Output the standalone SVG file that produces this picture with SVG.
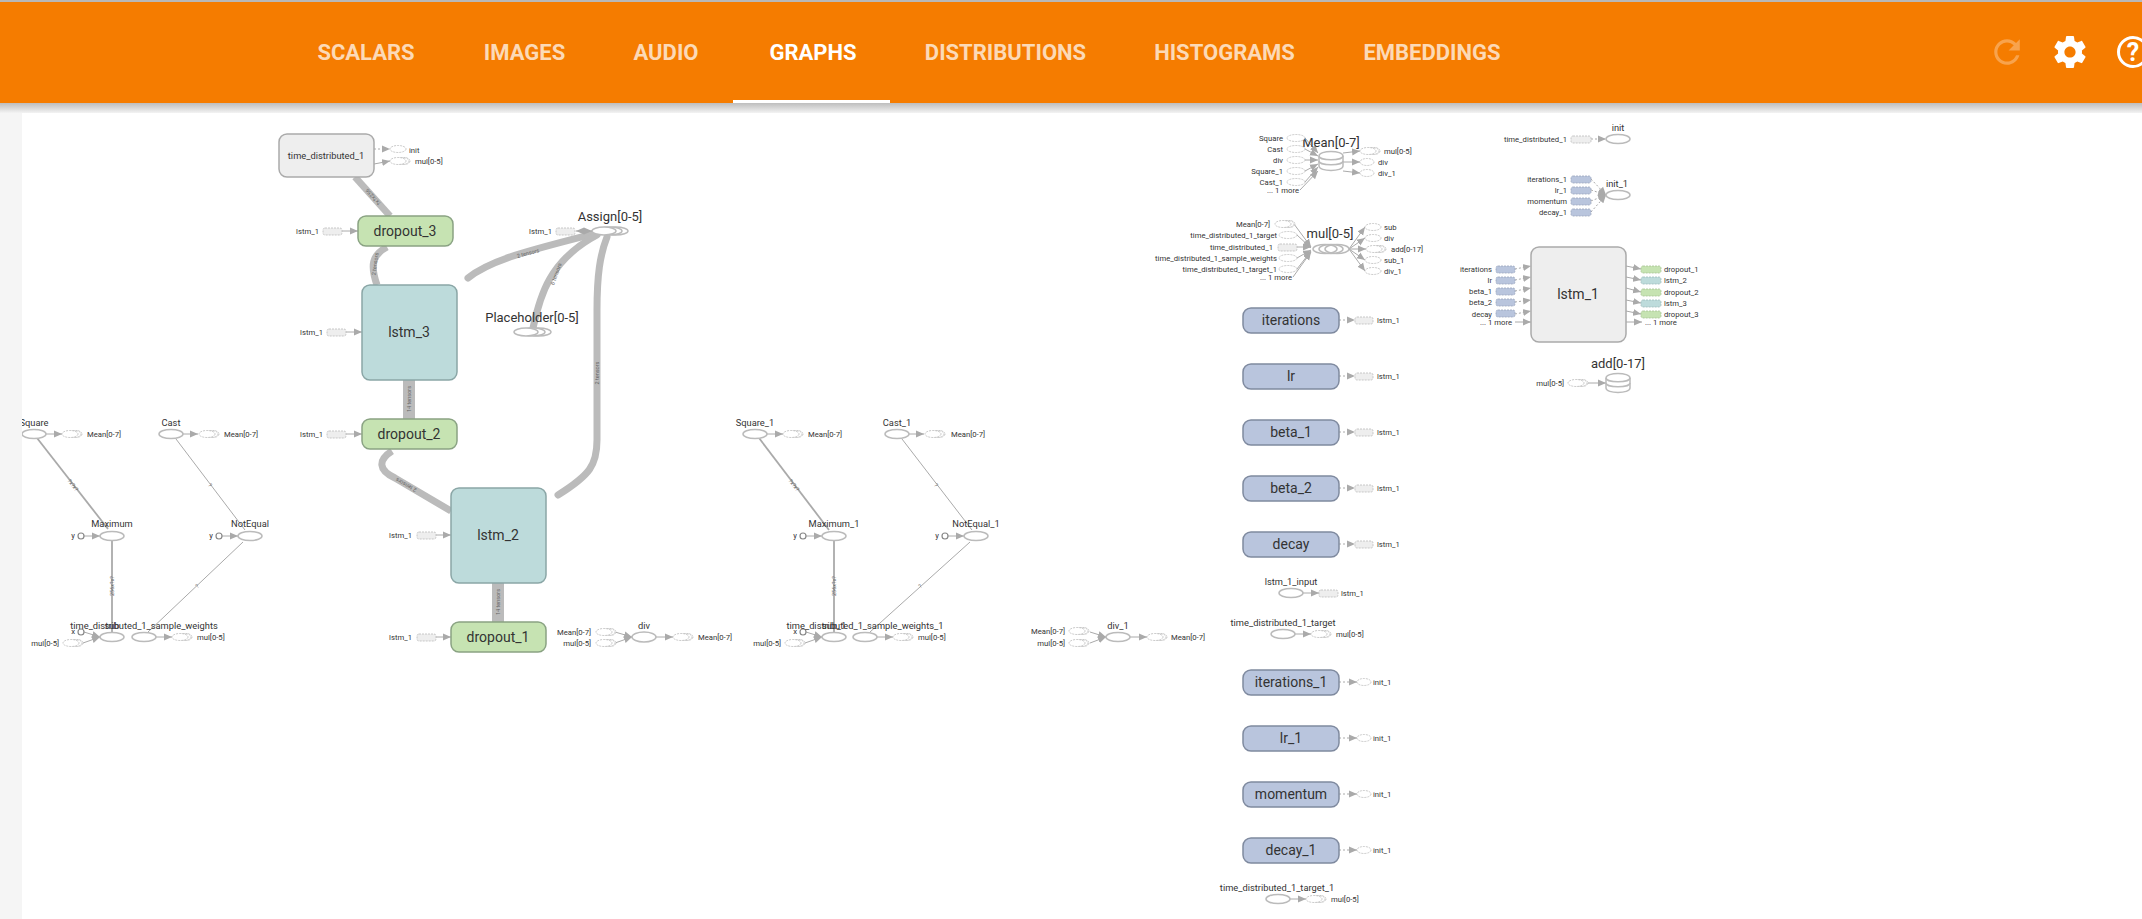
<svg xmlns="http://www.w3.org/2000/svg" width="2142" height="919" viewBox="0 0 2142 919">
<defs>
<linearGradient id="shadow" x1="0" y1="0" x2="0" y2="1"><stop offset="0" stop-color="#bdbdbd"/><stop offset="1" stop-color="#f3f3f3"/></linearGradient>
<marker id="arr" markerUnits="userSpaceOnUse" markerWidth="9" markerHeight="8" refX="8" refY="4" orient="auto"><path d="M0 .5L8 4L0 7.500z" fill="#aaa"/></marker>
<marker id="arrs" markerUnits="userSpaceOnUse" markerWidth="9" markerHeight="8" refX="8" refY="4" orient="auto-start-reverse"><path d="M0 .5L8 4L0 7.500z" fill="#aaa"/></marker>
<g id="ser"><ellipse class="st" cx="4" cy="0" rx="6" ry="3.500"/><ellipse class="st" cx="2" cy="0" rx="7" ry="3.500"/><ellipse class="st" cx="-2" cy="0" rx="8" ry="3.500"/></g>
</defs>
<style>
text{font-family:Roboto,"Liberation Sans",sans-serif;fill:#333}
.nav{font-size:22px;font-weight:700;fill:#fff;fill-opacity:.72;text-anchor:middle}
.big{font-size:14px;text-anchor:middle;dominant-baseline:central}
.n{font-size:9.300px;text-anchor:middle;dominant-baseline:central}
.lab{font-size:13px;text-anchor:middle;dominant-baseline:central}
.s{font-size:7.700px;dominant-baseline:central;fill:#333}
.r{text-anchor:end}
.el{font-size:5.500px;text-anchor:middle;dominant-baseline:central;fill:#666}
.op{fill:#fff;stroke:#bbb;stroke-width:1.500}
.st{fill:#fff;stroke:#bbb;stroke-width:.8;stroke-dasharray:2 1}
.rs{stroke:#bbb;stroke-width:.8;stroke-dasharray:2 1;fill:#eee}
.b{fill:#b9c5dd;stroke:#99a5bd}
.g{fill:#c6e3b2;stroke:#a6c392}
.t{fill:#bddbdb;stroke:#9dbbbb}
.box{stroke-width:1.500}
.bg{fill:#bddbdb;stroke:#8aa6a6}
.bd{fill:#c6e3b2;stroke:#8aa383}
.bb{fill:#b9c5dd;stroke:#7f8a9f}
.bm{fill:#eee;stroke:#aaa}
.c{fill:#fff;stroke:#888;stroke-width:1.200}
.e{fill:none;stroke:#aaa;stroke-width:1;marker-end:url(#arr)}
.d{stroke-dasharray:2 2}
.th{fill:none;stroke:#bbb;stroke-linecap:round}
.hi{fill:none;stroke:#bbb}
</style>
<rect width="2142" height="919" fill="#fff"/>
<rect x="0" y="103" width="22" height="816" fill="#f5f5f5"/>
<rect x="0" y="103" width="2142" height="10" fill="url(#shadow)"/>
<rect x="0" y="0" width="2142" height="103" fill="#f57c00"/>
<rect x="0" y="0" width="2142" height="2" fill="#b8b8b8"/>
<rect x="733" y="100" width="157" height="3" fill="#fff"/>
<g id="nav">
<text class="nav" x="366" y="60">SCALARS</text>
<text class="nav" x="524.500" y="60">IMAGES</text>
<text class="nav" x="666" y="60">AUDIO</text>
<text class="nav" x="813" y="60" style="fill-opacity:1">GRAPHS</text>
<text class="nav" x="1005.500" y="60">DISTRIBUTIONS</text>
<text class="nav" x="1224.500" y="60">HISTOGRAMS</text>
<text class="nav" x="1432" y="60">EMBEDDINGS</text>
<path transform="translate(1987.800 32.800) scale(1.600)" fill="#fff" fill-opacity=".3" d="M17.65 6.35C16.2 4.9 14.21 4 12 4c-4.42 0-7.99 3.58-7.99 8s3.57 8 7.99 8c3.73 0 6.84-2.55 7.73-6h-2.08c-.82 2.33-3.04 4-5.65 4-3.31 0-6-2.69-6-6s2.69-6 6-6c1.66 0 3.14.69 4.22 1.78L13 11h7V4l-2.35 2.35z"/>
<path transform="translate(2050.800 32.800) scale(1.600)" fill="#fff" d="M19.43 12.98c.04-.32.07-.64.07-.98s-.03-.66-.07-.98l2.11-1.650c.19-.15.24-.42.12-.64l-2-3.460c-.12-.22-.39-.3-.61-.22l-2.490 1c-.52-.4-1.080-.73-1.690-.98l-.38-2.650C14.460 2.180 14.250 2 14 2h-4c-.25 0-.46.18-.49.42l-.38 2.650c-.61.25-1.170.59-1.690.98l-2.490-1c-.23-.09-.49 0-.61.22l-2 3.460c-.13.22-.07.49.12.64l2.110 1.650c-.04.32-.07.65-.07.98s.03.66.07.98l-2.110 1.650c-.19.15-.24.42-.12.64l2 3.460c.12.22.39.3.61.22l2.490-1c.52.4 1.080.73 1.690.98l.38 2.650c.03.24.24.42.49.42h4c.25 0 .46-.18.49-.42l.38-2.650c.61-.25 1.170-.59 1.690-.98l2.490 1c.23.09.49 0 .61-.22l2-3.460c.12-.22.07-.49-.12-.64l-2.110-1.650zM12 15.500c-1.930 0-3.500-1.570-3.500-3.500s1.570-3.500 3.500-3.500 3.500 1.570 3.500 3.500-1.570 3.500-3.500 3.500z"/>
<circle cx="2133" cy="52" r="14.500" fill="none" stroke="#fff" stroke-width="3"/>
<text x="2133" y="61" text-anchor="middle" style="font-size:25px;font-weight:700;fill:#fff">?</text>
</g>
<g id="connectors">
<path class="hi" stroke-width="7" d="M355 177L390 216"/>
<path class="hi" stroke-width="7" d="M387 247C372 255 370 265 377 285"/>
<path class="th" stroke-width="7" d="M468 278C490 260 530 250 597 233"/>
<path class="th" stroke-width="7" d="M533 328C540 295 550 260 597 235"/>
<path class="th" stroke-width="7" d="M558 495C590 475 597 465 597 440L597 310C597 275 600 255 607 237"/>
<path class="hi" stroke-width="12" d="M409 380V419"/>
<path class="hi" stroke-width="12" d="M498 583V622"/>
<path class="hi" stroke-width="7" d="M392 451C378 460 378 470 395 478L451 511"/>
<text class="el" transform="translate(373 197) rotate(228)">?x?x256</text>
<text class="el" transform="translate(375 264) rotate(-82)">2 tensors</text>
<text class="el" transform="translate(528 253) rotate(-15)">2 tensors</text>
<text class="el" transform="translate(556 274) rotate(-70)">6 tensors</text>
<text class="el" transform="translate(597 373) rotate(-90)">2 tensors</text>
<text class="el" transform="translate(409 399) rotate(-90)">14 tensors</text>
<text class="el" transform="translate(498 602) rotate(-90)">14 tensors</text>
<text class="el" transform="translate(406 485) rotate(210)">2 tensors</text>
<path class="e d" d="M374 149L390 149"/>
<path class="e" d="M374 164L390 161"/>
<path class="e" d="M342 231H358"/>
<path class="e" d="M346 332H362"/>
<path class="e" d="M346 434H362"/>
<path class="e" d="M435 535H451"/>
<path class="e" d="M435 637H451"/>
<path class="e" d="M615 632L632 637"/>
<path class="e" d="M615 643L632 637"/>
<path class="e" d="M656 637H673"/>
<path class="e" d="M46 434H62"/>
<path class="e" d="M183 434H198"/>
<path class="e" d="M84 536H100"/>
<path class="e" d="M222 536H238"/>
<path class="e" d="M84 632L100 637"/>
<path class="e" d="M83 643L100 637"/>
<path class="e" d="M156 637H172"/>
<path fill="none" stroke="#aaa" stroke-width="1.800" d="M37 438L108 529"/>
<path fill="none" stroke="#aaa" stroke-width="1" d="M176 439L245 530"/>
<path fill="none" stroke="#aaa" stroke-width="1.800" d="M112 540V633"/>
<path fill="none" stroke="#aaa" stroke-width="1" d="M243 542L148 632"/>
<text class="el" transform="translate(73 485) rotate(52)">?x?x?</text>
<text class="el" transform="translate(210 485) rotate(52)">?</text>
<text class="el" transform="translate(112 586) rotate(-90)">256x?x?</text>
<text class="el" transform="translate(197 586) rotate(-43)">?</text>
<path class="e" d="M767 434H783"/>
<path class="e" d="M909 434H924"/>
<path class="e" d="M806 536H822"/>
<path class="e" d="M948 536H964"/>
<path class="e" d="M806 632L822 637"/>
<path class="e" d="M805 643L822 637"/>
<path class="e" d="M877 637H893"/>
<path fill="none" stroke="#aaa" stroke-width="1.800" d="M759 438L829 530"/>
<path fill="none" stroke="#aaa" stroke-width="1" d="M902 439L972 530"/>
<path fill="none" stroke="#aaa" stroke-width="1.800" d="M834 540V633"/>
<path fill="none" stroke="#aaa" stroke-width="1" d="M970 542L870 632"/>
<text class="el" transform="translate(794 485) rotate(52)">?x?x?</text>
<text class="el" transform="translate(936 485) rotate(52)">?</text>
<text class="el" transform="translate(834 586) rotate(-90)">256x?x?</text>
<text class="el" transform="translate(920 586) rotate(-43)">?</text>
<path class="e" d="M1090 632L1106 637"/>
<path class="e" d="M1090 643L1106 637"/>
<path class="e" d="M1130 637H1147"/>
<path class="e" d="M1305 138L1318 153"/>
<path class="e" d="M1305 149L1318 156"/>
<path class="e" d="M1305 160L1318 160"/>
<path class="e" d="M1305 171L1318 164"/>
<path class="e" d="M1305 182L1318 167"/>
<path class="e" d="M1300 190L1318 171"/>
<path class="e" d="M1343 153L1360 151"/>
<path class="e" d="M1343 162H1360"/>
<path class="e" d="M1343 171L1360 173"/>
<path class="e" d="M1294 224L1311 247"/>
<path class="e" d="M1297 235L1311 248"/>
<path class="e" d="M1297 247H1311"/>
<path class="e" d="M1297 258L1311 250"/>
<path class="e" d="M1297 269L1311 251"/>
<path class="e" d="M1293 277L1311 252"/>
<path class="e" d="M1349 249L1365 227"/>
<path class="e" d="M1349 249L1365 238"/>
<path class="e" d="M1349 249H1366"/>
<path class="e" d="M1349 249L1365 260"/>
<path class="e" d="M1349 249L1365 271"/>
<path class="e d" d="M1591 139H1606"/>
<path class="e d" d="M1591 179L1606 195"/>
<path class="e d" d="M1591 190L1606 195"/>
<path class="e d" d="M1591 201L1606 195"/>
<path class="e d" d="M1591 212L1606 195"/>
<path class="e d" d="M1515 269L1531 266"/>
<path class="e d" d="M1515 280L1531 277"/>
<path class="e d" d="M1515 291L1531 288"/>
<path class="e d" d="M1515 302L1531 300"/>
<path class="e d" d="M1515 314L1531 311"/>
<path class="e" d="M1515 322H1531"/>
<path class="e" d="M1626 266L1641 269"/>
<path class="e" d="M1626 277L1641 280"/>
<path class="e" d="M1626 288L1641 292"/>
<path class="e" d="M1626 300L1641 303"/>
<path class="e" d="M1626 311L1641 314"/>
<path class="e" d="M1626 322H1642"/>
<path class="e" d="M1588 383H1606"/>
<path class="e d" d="M1339 320H1355"/>
<path class="e d" d="M1339 376H1355"/>
<path class="e d" d="M1339 432H1355"/>
<path class="e d" d="M1339 488H1355"/>
<path class="e d" d="M1339 544H1355"/>
<path class="e d" d="M1339 682H1357"/>
<path class="e d" d="M1339 738H1357"/>
<path class="e d" d="M1339 794H1357"/>
<path class="e d" d="M1339 850H1357"/>
<path class="e" d="M1303 593H1319"/>
<path class="e" d="M1295 634H1311"/>
<path class="e" d="M1290 899H1306"/>
</g>
<g id="time_distributed_1"><rect class="box bm" x="279" y="134" width="95" height="43" rx="8"/><text class="n" x="326" y="155">time_distributed_1</text>
<ellipse class="st" cx="398" cy="149" rx="8" ry="3.500"/><text class="s" x="409" y="150">init</text>
<use href="#ser" x="400" y="161"/><text class="s" x="415" y="161">mul[0-5]</text></g>
<g id="dropout_3"><rect class="box bd" x="358" y="216" width="95" height="30" rx="8"/><text class="big" x="405" y="231">dropout_3</text>
<rect class="rs" x="323" y="228" width="19" height="7" rx="2"/><text class="s r" x="319" y="231">lstm_1</text></g>
<g id="lstm_3"><rect class="box bg" x="362" y="285" width="95" height="95" rx="8"/><text class="big" x="409" y="332">lstm_3</text>
<rect class="rs" x="327" y="329" width="19" height="7" rx="2"/><text class="s r" x="323" y="332">lstm_1</text></g>
<g id="dropout_2"><rect class="box bd" x="362" y="419" width="95" height="30" rx="8"/><text class="big" x="409" y="434">dropout_2</text>
<rect class="rs" x="327" y="431" width="19" height="7" rx="2"/><text class="s r" x="323" y="434">lstm_1</text></g>
<g id="lstm_2"><rect class="box bg" x="451" y="488" width="95" height="95" rx="8"/><text class="big" x="498" y="535">lstm_2</text>
<rect class="rs" x="417" y="532" width="19" height="7" rx="2"/><text class="s r" x="412" y="535">lstm_1</text></g>
<g id="dropout_1"><rect class="box bd" x="451" y="622" width="95" height="30" rx="8"/><text class="big" x="498" y="637">dropout_1</text>
<rect class="rs" x="417" y="634" width="19" height="7" rx="2"/><text class="s r" x="412" y="637">lstm_1</text></g>
<g id="Assign"><ellipse class="op" cx="616" cy="231" rx="12" ry="4"/><ellipse class="op" cx="610" cy="231" rx="12" ry="4"/><ellipse class="op" cx="604" cy="231" rx="12" ry="4"/><text class="lab" x="610" y="216">Assign[0-5]</text>
<rect class="rs" x="556" y="228" width="19" height="7" rx="2"/><text class="s r" x="552" y="231">lstm_1</text></g>
<path fill="none" stroke="#aaa" d="M576 231H592" marker-start="url(#arrs)" marker-end="url(#arrs)"/>
<g id="Placeholder"><ellipse class="op" cx="539" cy="332" rx="12" ry="4"/><ellipse class="op" cx="533" cy="332" rx="12" ry="4"/><ellipse class="op" cx="526" cy="332" rx="12" ry="4"/><text class="lab" x="532" y="317">Placeholder[0-5]</text></g>
<g id="div"><ellipse class="op" cx="644" cy="637" rx="12" ry="5"/><text class="n" x="644" y="625">div</text>
<use href="#ser" x="606" y="632"/><use href="#ser" x="606" y="643"/><text class="s r" x="591" y="632">Mean[0-7]</text><text class="s r" x="591" y="643">mul[0-5]</text>
<use href="#ser" x="683" y="637"/><text class="s" x="698" y="637">Mean[0-7]</text></g>
<g id="Square"><ellipse class="op" cx="34" cy="434" rx="12" ry="4.500"/><text class="n" x="34" y="422">Square</text><use href="#ser" x="72" y="434"/><text class="s" x="87" y="434">Mean[0-7]</text></g>
<rect x="0" y="414" width="22" height="30" fill="#f5f5f5"/>
<g id="Cast"><ellipse class="op" cx="171" cy="434" rx="12" ry="4.500"/><text class="n" x="171" y="422">Cast</text><use href="#ser" x="209" y="434"/><text class="s" x="224" y="434">Mean[0-7]</text></g>
<g id="Maximum"><ellipse class="op" cx="112" cy="536" rx="12" ry="4.500"/><text class="n" x="112" y="523">Maximum</text><circle class="c" cx="81" cy="536" r="3"/><text class="s r" x="75" y="535">y</text></g>
<g id="NotEqual"><ellipse class="op" cx="250" cy="536" rx="12" ry="4.500"/><text class="n" x="250" y="523">NotEqual</text><circle class="c" cx="219" cy="536" r="3"/><text class="s r" x="213" y="535">y</text></g>
<g id="sub"><ellipse class="op" cx="112" cy="637" rx="12" ry="4.500"/><text class="n" x="112" y="625">sub</text><circle class="c" cx="81" cy="632" r="3"/><text class="s r" x="75" y="631">x</text>
<use href="#ser" x="73" y="643"/><text class="s r" x="59" y="643">mul[0-5]</text></g>
<g id="time_distributed_1_sample_weights"><ellipse class="op" cx="144" cy="637" rx="12" ry="4.500"/><text class="n" x="144" y="625">time_distributed_1_sample_weights</text><use href="#ser" x="182" y="637"/><text class="s" x="197" y="637">mul[0-5]</text></g>
<g id="Square_1"><ellipse class="op" cx="755" cy="434" rx="12" ry="4.500"/><text class="n" x="755" y="422">Square_1</text><use href="#ser" x="793" y="434"/><text class="s" x="808" y="434">Mean[0-7]</text></g>
<g id="Cast_1"><ellipse class="op" cx="897" cy="434" rx="12" ry="4.500"/><text class="n" x="897" y="422">Cast_1</text><use href="#ser" x="935" y="434"/><text class="s" x="951" y="434">Mean[0-7]</text></g>
<g id="Maximum_1"><ellipse class="op" cx="834" cy="536" rx="12" ry="4.500"/><text class="n" x="834" y="523">Maximum_1</text><circle class="c" cx="803" cy="536" r="3"/><text class="s r" x="797" y="535">y</text></g>
<g id="NotEqual_1"><ellipse class="op" cx="976" cy="536" rx="12" ry="4.500"/><text class="n" x="976" y="523">NotEqual_1</text><circle class="c" cx="945" cy="536" r="3"/><text class="s r" x="939" y="535">y</text></g>
<g id="sub_1"><ellipse class="op" cx="834" cy="637" rx="12" ry="4.500"/><text class="n" x="834" y="625">sub_1</text><circle class="c" cx="803" cy="632" r="3"/><text class="s r" x="797" y="631">x</text>
<use href="#ser" x="795" y="643"/><text class="s r" x="781" y="643">mul[0-5]</text></g>
<g id="time_distributed_1_sample_weights_1"><ellipse class="op" cx="865" cy="637" rx="12" ry="4.500"/><text class="n" x="865" y="625">time_distributed_1_sample_weights_1</text><use href="#ser" x="903" y="637"/><text class="s" x="918" y="637">mul[0-5]</text></g>
<g id="div_1"><ellipse class="op" cx="1118" cy="637" rx="12" ry="4.500"/><text class="n" x="1118" y="625">div_1</text>
<use href="#ser" x="1079" y="631"/><use href="#ser" x="1079" y="643"/><text class="s r" x="1065" y="631">Mean[0-7]</text><text class="s r" x="1065" y="643">mul[0-5]</text>
<use href="#ser" x="1157" y="637"/><text class="s" x="1171" y="637">Mean[0-7]</text></g>
<g id="Mean"><text class="lab" x="1331" y="142">Mean[0-7]</text>
<path class="op" style="fill:none" d="M1319 156C1319 150 1343 150 1343 156V166C1343 172 1319 172 1319 166Z"/><path class="op" style="fill:none" d="M1319 156C1319 161 1343 161 1343 156M1319 161C1319 166 1343 166 1343 161"/>
<ellipse class="st" cx="1296" cy="138" rx="9" ry="3.500"/><ellipse class="st" cx="1296" cy="149" rx="9" ry="3.500"/><ellipse class="st" cx="1296" cy="160" rx="9" ry="3.500"/><ellipse class="st" cx="1296" cy="171" rx="9" ry="3.500"/><ellipse class="st" cx="1296" cy="182" rx="9" ry="3.500"/>
<text class="s r" x="1283" y="138">Square</text><text class="s r" x="1283" y="149">Cast</text><text class="s r" x="1283" y="160">div</text><text class="s r" x="1283" y="171">Square_1</text><text class="s r" x="1283" y="182">Cast_1</text><text class="s r" x="1299" y="190">... 1 more</text>
<use href="#ser" x="1370" y="151"/><ellipse class="st" cx="1367" cy="162" rx="7" ry="3.500"/><ellipse class="st" cx="1367" cy="173" rx="7" ry="3.500"/>
<text class="s" x="1384" y="151">mul[0-5]</text><text class="s" x="1378" y="162">div</text><text class="s" x="1378" y="173">div_1</text></g>
<g id="mul"><text class="lab" x="1330" y="233">mul[0-5]</text>
<ellipse class="op" style="fill:none" cx="1337" cy="249" rx="12" ry="4.500"/><ellipse class="op" style="fill:none" cx="1331" cy="249" rx="12" ry="4.500"/><ellipse class="op" style="fill:none" cx="1325" cy="249" rx="12" ry="4.500"/>
<use href="#ser" x="1285" y="224"/><ellipse class="st" cx="1288" cy="235" rx="9" ry="3.500"/><rect class="rs" x="1278" y="244" width="19" height="7" rx="2"/><ellipse class="st" cx="1288" cy="258" rx="9" ry="3.500"/><ellipse class="st" cx="1288" cy="269" rx="9" ry="3.500"/>
<text class="s r" x="1270" y="224">Mean[0-7]</text><text class="s r" x="1277" y="235">time_distributed_1_target</text><text class="s r" x="1273" y="247">time_distributed_1</text><text class="s r" x="1277" y="258">time_distributed_1_sample_weights</text><text class="s r" x="1277" y="269">time_distributed_1_target_1</text><text class="s r" x="1292" y="277">... 1 more</text>
<ellipse class="st" cx="1373" cy="227" rx="8" ry="3.500"/><ellipse class="st" cx="1373" cy="238" rx="8" ry="3.500"/><use href="#ser" x="1376" y="249"/><ellipse class="st" cx="1373" cy="260" rx="8" ry="3.500"/><ellipse class="st" cx="1373" cy="271" rx="8" ry="3.500"/>
<text class="s" x="1384" y="227">sub</text><text class="s" x="1384" y="238">div</text><text class="s" x="1391" y="249">add[0-17]</text><text class="s" x="1384" y="260">sub_1</text><text class="s" x="1384" y="271">div_1</text></g>
<g id="init"><ellipse class="op" cx="1618" cy="139" rx="12" ry="4.500"/><text class="n" x="1618" y="127">init</text><rect class="rs" x="1571" y="136" width="20" height="7" rx="2"/><text class="s r" x="1567" y="139">time_distributed_1</text></g>
<g id="init_1"><ellipse class="op" cx="1618" cy="195" rx="12" ry="4.500"/><text class="n" x="1617" y="183">init_1</text>
<rect class="rs b" x="1571" y="176" width="20" height="7" rx="2"/><rect class="rs b" x="1571" y="187" width="20" height="7" rx="2"/><rect class="rs b" x="1571" y="198" width="20" height="7" rx="2"/><rect class="rs b" x="1571" y="209" width="20" height="7" rx="2"/>
<text class="s r" x="1567" y="179">iterations_1</text><text class="s r" x="1567" y="190">lr_1</text><text class="s r" x="1567" y="201">momentum</text><text class="s r" x="1567" y="212">decay_1</text></g>
<g id="lstm_1"><rect class="box bm" x="1531" y="247" width="95" height="95" rx="8"/><text class="big" x="1578" y="294">lstm_1</text>
<rect class="rs b" x="1496" y="266" width="19" height="7" rx="2"/><rect class="rs b" x="1496" y="277" width="19" height="7" rx="2"/><rect class="rs b" x="1496" y="288" width="19" height="7" rx="2"/><rect class="rs b" x="1496" y="299" width="19" height="7" rx="2"/><rect class="rs b" x="1496" y="310" width="19" height="7" rx="2"/>
<text class="s r" x="1492" y="269">iterations</text><text class="s r" x="1492" y="280">lr</text><text class="s r" x="1492" y="291">beta_1</text><text class="s r" x="1492" y="302">beta_2</text><text class="s r" x="1492" y="314">decay</text><text class="s r" x="1512" y="322">... 1 more</text>
<rect class="rs g" x="1641" y="266" width="20" height="7" rx="2"/><rect class="rs t" x="1641" y="277" width="20" height="7" rx="2"/><rect class="rs g" x="1641" y="289" width="20" height="7" rx="2"/><rect class="rs t" x="1641" y="300" width="20" height="7" rx="2"/><rect class="rs g" x="1641" y="311" width="20" height="7" rx="2"/>
<text class="s" x="1664" y="269">dropout_1</text><text class="s" x="1664" y="280">lstm_2</text><text class="s" x="1664" y="292">dropout_2</text><text class="s" x="1664" y="303">lstm_3</text><text class="s" x="1664" y="314">dropout_3</text><text class="s" x="1645" y="322">... 1 more</text></g>
<g id="add"><text class="lab" x="1618" y="363">add[0-17]</text>
<path class="op" style="fill:none" d="M1606 378C1606 372 1630 372 1630 378V388C1630 394 1606 394 1606 388Z"/><path class="op" style="fill:none" d="M1606 378C1606 383 1630 383 1630 378M1606 383C1606 388 1630 388 1630 383"/>
<use href="#ser" x="1578" y="383"/><text class="s r" x="1564" y="383">mul[0-5]</text></g>
<g id="iterations"><rect class="box bb" x="1243" y="308" width="96" height="25" rx="8"/><text class="big" x="1291" y="320">iterations</text><rect class="rs" x="1355" y="317" width="18" height="7" rx="2"/><text class="s" x="1377" y="320">lstm_1</text></g>
<g id="lr"><rect class="box bb" x="1243" y="364" width="96" height="25" rx="8"/><text class="big" x="1291" y="376">lr</text><rect class="rs" x="1355" y="373" width="18" height="7" rx="2"/><text class="s" x="1377" y="376">lstm_1</text></g>
<g id="beta_1"><rect class="box bb" x="1243" y="420" width="96" height="25" rx="8"/><text class="big" x="1291" y="432">beta_1</text><rect class="rs" x="1355" y="429" width="18" height="7" rx="2"/><text class="s" x="1377" y="432">lstm_1</text></g>
<g id="beta_2"><rect class="box bb" x="1243" y="476" width="96" height="25" rx="8"/><text class="big" x="1291" y="488">beta_2</text><rect class="rs" x="1355" y="485" width="18" height="7" rx="2"/><text class="s" x="1377" y="488">lstm_1</text></g>
<g id="decay"><rect class="box bb" x="1243" y="532" width="96" height="25" rx="8"/><text class="big" x="1291" y="544">decay</text><rect class="rs" x="1355" y="541" width="18" height="7" rx="2"/><text class="s" x="1377" y="544">lstm_1</text></g>
<g id="lstm_1_input"><ellipse class="op" cx="1291" cy="593" rx="12" ry="4.500"/><text class="n" x="1291" y="581">lstm_1_input</text><rect class="rs" x="1319" y="590" width="19" height="7" rx="2"/><text class="s" x="1341" y="593">lstm_1</text></g>
<g id="time_distributed_1_target"><ellipse class="op" cx="1283" cy="634" rx="12" ry="4.500"/><text class="n" x="1283" y="622">time_distributed_1_target</text><use href="#ser" x="1321" y="634"/><text class="s" x="1336" y="634">mul[0-5]</text></g>
<g id="iterations_1"><rect class="box bb" x="1243" y="670" width="96" height="25" rx="8"/><text class="big" x="1291" y="682">iterations_1</text><ellipse class="st" cx="1364" cy="682" rx="7" ry="3.500"/><text class="s" x="1373" y="682">init_1</text></g>
<g id="lr_1"><rect class="box bb" x="1243" y="726" width="96" height="25" rx="8"/><text class="big" x="1291" y="738">lr_1</text><ellipse class="st" cx="1364" cy="738" rx="7" ry="3.500"/><text class="s" x="1373" y="738">init_1</text></g>
<g id="momentum"><rect class="box bb" x="1243" y="782" width="96" height="25" rx="8"/><text class="big" x="1291" y="794">momentum</text><ellipse class="st" cx="1364" cy="794" rx="7" ry="3.500"/><text class="s" x="1373" y="794">init_1</text></g>
<g id="decay_1"><rect class="box bb" x="1243" y="838" width="96" height="25" rx="8"/><text class="big" x="1291" y="850">decay_1</text><ellipse class="st" cx="1364" cy="850" rx="7" ry="3.500"/><text class="s" x="1373" y="850">init_1</text></g>
<g id="time_distributed_1_target_1"><ellipse class="op" cx="1278" cy="899" rx="12" ry="4.500"/><text class="n" x="1277" y="887">time_distributed_1_target_1</text><use href="#ser" x="1316" y="899"/><text class="s" x="1331" y="899">mul[0-5]</text></g>
</svg>
